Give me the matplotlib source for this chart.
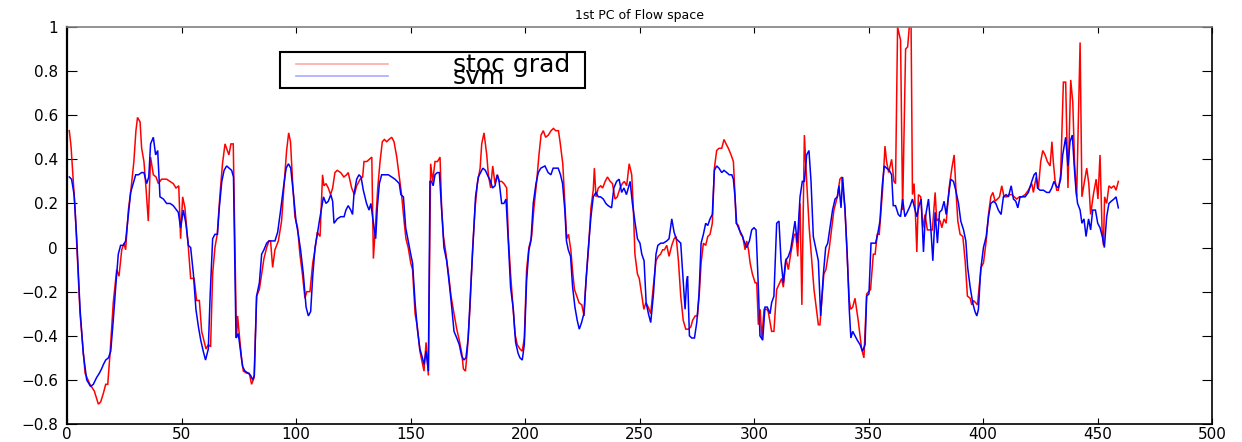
import matplotlib
matplotlib.use("Agg")
import matplotlib.pyplot as plt
from matplotlib.lines import Line2D
from matplotlib.patches import Rectangle

title = "1st PC of Flow space"
series_names = ["stoc grad", "svm"]
series_colors = ["#ff0000", "#0000ff"]

# (sample index, value) vertices
stoc_grad_pts = [
    (1, 0.53), (1.75, 0.46), (3.5, 0.18), (5.7, -0.30), (7.9, -0.57), (10, -0.62), (11.9, -0.65),
    (13.7, -0.71), (14.7, -0.70), (15.9, -0.66), (16.9, -0.62), (17.8, -0.62), (18.8, -0.48),
    (20.2, -0.25), (21.7, -0.10), (22.7, -0.13), (23.9, -0.01), (24.9, 0.02), (25.6, -0.01),
    (26.8, 0.17), (27.9, 0.26), (29.2, 0.39), (30.1, 0.53), (30.8, 0.59), (31.9, 0.57), (32.6, 0.45),
    (33.6, 0.39), (34.5, 0.27), (35.5, 0.12), (36.5, 0.41), (37.7, 0.33), (38.9, 0.32), (39.9, 0.29),
    (41.3, 0.31), (43.5, 0.31), (46.4, 0.29), (47.6, 0.27), (48.8, 0.28), (49.6, 0.04), (50.5, 0.23),
    (51.5, 0.18), (53, 0.0), (54, -0.14), (55.5, -0.14), (56.6, -0.24), (57.8, -0.24), (58.8, -0.38),
    (60.7, -0.46), (61.7, -0.44), (62.7, -0.45), (63.6, -0.12), (64.6, 0.0), (65.6, 0.06), (66.8, 0.24),
    (67.9, 0.38), (69, 0.47), (69.7, 0.45), (70.7, 0.42), (71.6, 0.47), (72.6, 0.47), (74.0, -0.41),
    (74.5, -0.31), (75.2, -0.39), (76.3, -0.51), (77, -0.56), (78.5, -0.57), (79.6, -0.57),
    (80.6, -0.62), (81.7, -0.59), (82.8, -0.22), (84, -0.19), (85, -0.12), (86, -0.05), (87.2, 0.0),
    (88.2, 0.03), (88.9, 0.03), (89.8, -0.09), (90.8, -0.01), (92.3, 0.03), (93.7, 0.12), (94.7, 0.27),
    (95.9, 0.44), (96.8, 0.52), (97.6, 0.48), (98.5, 0.30), (99.5, 0.14), (100.7, 0.09), (101.7, -0.03),
    (102.8, -0.12), (103.9, -0.23), (104.7, -0.20), (106.1, -0.20), (107.3, -0.07), (108.3, -0.01),
    (109.3, 0.07), (110.5, 0.05), (111.6, 0.33), (112.2, 0.28), (113.1, 0.29), (114.1, 0.27),
    (115.1, 0.24), (116, 0.27), (117, 0.34), (118, 0.35), (119.5, 0.34), (120.9, 0.32), (122.1, 0.33),
    (122.8, 0.34), (124.3, 0.27), (125.5, 0.24), (126.5, 0.28), (128, 0.31), (129.1, 0.32),
    (129.7, 0.39), (130.9, 0.39), (132, 0.40), (133.1, 0.41), (133.8, -0.05), (134.8, 0.12),
    (135.7, 0.27), (136.7, 0.39), (137.7, 0.48), (138.6, 0.49), (139.6, 0.48), (140.6, 0.49),
    (141.8, 0.50), (142.8, 0.48), (144, 0.41), (145.1, 0.32), (146.1, 0.24), (147.2, 0.12), (148, 0.04),
    (149, 0.0), (150.1, -0.07), (150.9, -0.10), (152, -0.30), (153, -0.36), (154.1, -0.47),
    (154.9, -0.51), (155.9, -0.56), (156.8, -0.43), (157.8, -0.58), (158.8, 0.38), (159.7, 0.30),
    (160.7, 0.39), (161.8, 0.39), (162.9, 0.41), (163.6, 0.18), (164.4, 0.05), (165.5, -0.03),
    (166.6, -0.12), (167.7, -0.22), (169, -0.30), (170.2, -0.37), (171.3, -0.42), (172.4, -0.48),
    (173.1, -0.55), (174, -0.56), (174.8, -0.47), (176, -0.27), (177.1, -0.01), (178.2, 0.18),
    (179.2, 0.29), (180.4, 0.36), (181.1, 0.47), (182.1, 0.52), (183.3, 0.42), (184, 0.33), (185, 0.27),
    (185.9, 0.37), (186.9, 0.29), (187.9, 0.33), (188.8, 0.30), (189.8, 0.30), (190.8, 0.29),
    (192, 0.27), (192.7, 0.05), (193.7, -0.12), (194.6, -0.25), (195.6, -0.39), (196.6, -0.44),
    (197.8, -0.46), (198.8, -0.47), (199.7, -0.41), (200.7, -0.10), (201.7, 0.0), (202.9, 0.05),
    (203.9, 0.18), (205.1, 0.30), (206.1, 0.42), (207, 0.51), (208, 0.53), (209, 0.50), (210.2, 0.51),
    (211.4, 0.53), (212.4, 0.54), (213.4, 0.53), (214.6, 0.53), (215.3, 0.48), (216.5, 0.38),
    (217.5, 0.18), (218.2, 0.04), (219, 0.06), (220, -0.01), (220.9, -0.12), (221.6, -0.19),
    (222.6, -0.22), (223.6, -0.25), (224.8, -0.26), (225.8, -0.31), (226.6, -0.15), (227.7, -0.01),
    (228.8, 0.18), (229.8, 0.26), (230.3, 0.36), (231, 0.23), (232, 0.27), (233.1, 0.28), (233.9, 0.27),
    (235, 0.30), (236, 0.32), (237.2, 0.30), (238.2, 0.29), (239.3, 0.22), (240.3, 0.23), (241.5, 0.27),
    (242.5, 0.29), (243.4, 0.30), (244.4, 0.28), (245.5, 0.38), (246.6, 0.33), (247.3, 0.18),
    (248, -0.03), (249.1, -0.12), (249.9, -0.14), (250.9, -0.21), (251.9, -0.28), (252.8, -0.25),
    (253.8, -0.27), (254.9, -0.30), (256, -0.18), (257.2, -0.06), (258.2, -0.04), (259.2, -0.03),
    (260.1, -0.01), (260.9, -0.01), (261.9, 0.01), (262.9, -0.04), (264.1, 0.01), (265.1, 0.04),
    (266, 0.05), (267, -0.06), (268, -0.22), (269.1, -0.33), (270.2, -0.37), (271.3, -0.37),
    (272.4, -0.36), (273.2, -0.33), (274.3, -0.31), (275.3, -0.31), (276.1, -0.21), (276.9, -0.07),
    (277.9, 0.02), (278.9, 0.01), (279.8, 0.05), (280.8, 0.06), (281.8, 0.11), (282.7, 0.36),
    (283.7, 0.44), (284.7, 0.45), (285.9, 0.45), (286.9, 0.49), (287.8, 0.47), (288.8, 0.45),
    (290, 0.42), (291, 0.39), (291.7, 0.24), (292.2, 0.11), (293.2, 0.10), (294.2, 0.06), (295.1, 0.05),
    (296.1, -0.01), (296.8, 0.03), (297.6, -0.01), (298.3, -0.07), (299.3, -0.12), (300.5, -0.16),
    (301.2, -0.16), (301.9, -0.35), (302.7, -0.28), (303.4, -0.41), (304.4, -0.28), (305.6, -0.28),
    (306.2, -0.29), (307.7, -0.38), (308.7, -0.38), (309.9, -0.19), (312.1, -0.14), (312.8, -0.18),
    (314, -0.05), (315, -0.10), (316, -0.03), (317.6, 0.06), (318.3, 0.06), (319.1, -0.04),
    (320.1, 0.20), (320.9, -0.26), (322, 0.51), (323, 0.30), (324.1, 0.09), (326.2, -0.19),
    (328.1, -0.35), (328.8, -0.35), (330.5, -0.12), (331.4, -0.10), (332.9, 0.0), (334.9, 0.17),
    (336.4, 0.23), (337.5, 0.31), (338.3, 0.32), (339.7, 0.18), (341.6, -0.24), (342.2, -0.28),
    (343.1, -0.27), (344.1, -0.23), (345.5, -0.33), (347, -0.46), (348, -0.50), (349.2, -0.21),
    (350.9, -0.19), (352.1, -0.03), (352.9, -0.03), (353.8, 0.06), (354.7, 0.06), (356.2, 0.27),
    (357.2, 0.46), (357.9, 0.39), (358.8, 0.34), (360.1, 0.40), (361.1, 0.30), (361.8, 0.29),
    (362.7, 1.0), (364, 0.94), (364.9, 0.17), (366.2, 0.90), (367.1, 0.91), (367.8, 1.0), (368.6, 1.0),
    (369.2, 0.24), (369.9, 0.29), (370.5, 0.15), (371.1, -0.02), (371.8, 0.24), (372.8, 0.23),
    (373.7, 0.09), (374.7, 0.15), (375.7, 0.08), (376.9, 0.08), (377.9, 0.08), (379.1, 0.25),
    (379.8, 0.12), (380.5, 0.13), (381.3, 0.12), (382, 0.09), (383, 0.13), (383.9, 0.11), (385.2, 0.27),
    (386.4, 0.36), (387.4, 0.42), (388.3, 0.24), (389, 0.12), (390, 0.06), (391.2, 0.05), (392.2, -0.06),
    (393.2, -0.22), (394.4, -0.23), (395.1, -0.26), (395.8, -0.24), (396.8, -0.25), (397.6, -0.26),
    (398.3, -0.18), (399.2, -0.09), (400.2, -0.07), (401.4, 0.03), (402.4, 0.15), (403.4, 0.23),
    (404.3, 0.25), (405.3, 0.21), (406.3, 0.22), (407.2, 0.23), (408.2, 0.28), (409.2, 0.23),
    (410.4, 0.23), (411.5, 0.24), (412.6, 0.24), (413.6, 0.23), (414.7, 0.22), (415.9, 0.23),
    (416.9, 0.23), (418.4, 0.24), (419.8, 0.26), (421.3, 0.29), (422, 0.25), (423.2, 0.32),
    (424.2, 0.27), (425.2, 0.39), (426.1, 0.44), (427.1, 0.42), (428.1, 0.39), (429.3, 0.37),
    (430.1, 0.48), (430.7, 0.39), (431.4, 0.31), (432.2, 0.26), (432.9, 0.26), (433.9, 0.33),
    (435.1, 0.75), (436.1, 0.75), (437.1, 0.27), (438.3, 0.76), (439.2, 0.66), (440, 0.38),
    (440.9, 0.23), (442.4, 0.93), (443.2, 0.23), (444.3, 0.30), (445.3, 0.36), (446.2, 0.29),
    (447, 0.15), (448.2, 0.24), (449.4, 0.31), (450.2, 0.22), (451.1, 0.42), (452, 0.08), (452.6, 0.01),
    (453.1, 0.23), (454, 0.20), (455, 0.28), (456, 0.27), (457.2, 0.28), (458.1, 0.26), (459.1, 0.30),
]

svm_pts = [
    (1, 0.32), (2, 0.31), (3.1, 0.24), (4.2, 0.05), (5.7, -0.28), (7.1, -0.48), (8.6, -0.60),
    (10.3, -0.63), (11.5, -0.62), (12.9, -0.59), (14.1, -0.57), (15.1, -0.55), (15.9, -0.53),
    (16.9, -0.51), (18.1, -0.50), (19.1, -0.47), (20.2, -0.33), (21.4, -0.16), (22.4, -0.03),
    (23.4, 0.01), (24.6, 0.01), (25.6, 0.03), (26.8, 0.15), (27.8, 0.25), (28.9, 0.29), (30, 0.33),
    (31.2, 0.33), (32.6, 0.34), (33.6, 0.34), (34.8, 0.29), (35.7, 0.32), (36.5, 0.47), (37.7, 0.50),
    (38.7, 0.42), (39.6, 0.44), (40.6, 0.23), (42.1, 0.22), (43.5, 0.20), (45, 0.20), (46.4, 0.19),
    (47.9, 0.17), (48.6, 0.16), (49.6, 0.09), (50.8, 0.17), (51.9, 0.11), (53, 0.01), (54, 0.0),
    (55.2, -0.12), (56.3, -0.28), (57.4, -0.36), (58.4, -0.42), (59.5, -0.47), (60.5, -0.51),
    (61.7, -0.46), (62.5, -0.22), (63.6, 0.04), (64.6, 0.06), (65.7, 0.06), (66.5, 0.18), (67.6, 0.30),
    (68.6, 0.35), (69.7, 0.37), (70.8, 0.36), (71.9, 0.35), (72.7, 0.32), (73.8, -0.41), (74.8, -0.39),
    (75.9, -0.48), (76.7, -0.54), (77.7, -0.56), (79.2, -0.57), (80.2, -0.58), (81.1, -0.60),
    (81.8, -0.58), (82.8, -0.22), (84, -0.16), (85, -0.03), (86, -0.01), (87.2, 0.02), (88.2, 0.03),
    (89.4, 0.03), (90.8, 0.03), (92, 0.07), (93.3, 0.17), (94.5, 0.27), (95.7, 0.36), (96.7, 0.38),
    (97.7, 0.36), (98.9, 0.24), (100, 0.12), (101, 0.06), (102, -0.01), (103.2, -0.12), (104.4, -0.27),
    (105.4, -0.31), (106.4, -0.29), (107.3, -0.13), (108.3, 0.0), (109.3, 0.06), (110.2, 0.12),
    (111.2, 0.18), (112, 0.23), (113.1, 0.20), (114.1, 0.21), (115.2, 0.24), (116, 0.21), (116.6, 0.11),
    (118, 0.13), (119.5, 0.14), (121, 0.14), (121.8, 0.17), (122.8, 0.19), (123.9, 0.17), (124.7, 0.15),
    (125.3, 0.24), (126.5, 0.31), (127.5, 0.33), (128.4, 0.32), (129.4, 0.26), (130.8, 0.20),
    (131.9, 0.17), (132.7, 0.20), (133.8, 0.11), (134.8, 0.04), (135.5, 0.18), (136.4, 0.29),
    (137.4, 0.33), (138.9, 0.33), (140.3, 0.33), (141.8, 0.32), (143.2, 0.31), (144.2, 0.30),
    (145.1, 0.29), (145.8, 0.24), (146.9, 0.23), (147.9, 0.09), (149, 0.03), (150.1, -0.03),
    (150.9, -0.07), (152, -0.25), (153, -0.37), (154.1, -0.46), (155.2, -0.50), (155.9, -0.53),
    (156.8, -0.47), (157.8, -0.56), (158.5, 0.30), (159.2, 0.30), (159.9, 0.28), (160.7, 0.33),
    (161.7, 0.34), (162.6, 0.34), (163.6, 0.17), (164.6, 0.0), (165.8, -0.06), (166.9, -0.16),
    (168, -0.27), (169, -0.38), (170.2, -0.41), (171.3, -0.44), (172.3, -0.49), (173.3, -0.51),
    (174.2, -0.50), (175.2, -0.41), (176.3, -0.18), (177.4, 0.03), (178.4, 0.23), (179.6, 0.32),
    (180.6, 0.34), (181.6, 0.36), (182.7, 0.35), (184, 0.32), (185, 0.30), (185.8, 0.27), (186.9, 0.28),
    (187.9, 0.33), (188.7, 0.30), (189.8, 0.20), (190.8, 0.20), (191.7, 0.22), (192.7, 0.03),
    (193.7, -0.18), (194.9, -0.28), (195.9, -0.43), (197, -0.48), (197.8, -0.50), (198.8, -0.51),
    (199.7, -0.44), (200.7, -0.15), (201.7, -0.01), (202.6, 0.03), (203.6, 0.20), (204.8, 0.29),
    (205.8, 0.34), (206.9, 0.36), (208.7, 0.37), (210.1, 0.34), (211.3, 0.33), (212.3, 0.36),
    (213.3, 0.36), (214.5, 0.36), (215.5, 0.33), (216.4, 0.29), (217.4, 0.17), (218.1, 0.03),
    (218.9, -0.01), (219.9, -0.04), (220.8, -0.18), (221.8, -0.27), (222.8, -0.33), (223.7, -0.37),
    (224.7, -0.34), (225.7, -0.30), (226.6, -0.16), (227.6, -0.01), (228.8, 0.14), (229.8, 0.23),
    (231, 0.25), (232, 0.23), (233, 0.23), (234.2, 0.22), (235.3, 0.20), (236.3, 0.19), (237.8, 0.18),
    (238.8, 0.27), (240, 0.30), (241.1, 0.31), (242.2, 0.25), (243.2, 0.27), (244.3, 0.24),
    (245.9, 0.30), (246.9, 0.20), (248.1, 0.11), (249.1, 0.04), (250.2, 0.02), (251, -0.03),
    (252, -0.06), (252.9, -0.25), (253.9, -0.30), (254.9, -0.34), (256.1, -0.21), (257.2, -0.03),
    (258, 0.01), (259.3, 0.02), (260.4, 0.02), (261.9, 0.03), (262.9, 0.04), (264.1, 0.13),
    (265.1, 0.07), (266, 0.04), (267, 0.03), (268, 0.02), (268.9, -0.12), (269.9, -0.28),
    (270.6, -0.15), (271, -0.13), (271.8, -0.40), (272.8, -0.41), (274, -0.41), (275, -0.34),
    (276, -0.21), (276.9, 0.02), (277.9, 0.06), (278.9, 0.11), (279.8, 0.10), (280.8, 0.13),
    (281.8, 0.15), (282.7, 0.35), (283.7, 0.37), (284.7, 0.36), (285.9, 0.34), (286.9, 0.35),
    (288.1, 0.34), (289.2, 0.33), (290.3, 0.33), (291, 0.31), (291.7, 0.23), (292.4, 0.11),
    (293.6, 0.08), (294.6, 0.06), (295.6, 0.03), (296.8, 0.0), (298, 0.03), (299, 0.08), (300, 0.09),
    (300.9, 0.08), (301.9, -0.18), (302.6, -0.40), (303.8, -0.42), (304.8, -0.27), (305.8, -0.27),
    (307, -0.30), (307.7, -0.25), (308.7, -0.22), (309.9, 0.11), (310.9, 0.12), (311.8, -0.06),
    (312.8, -0.16), (313.8, -0.06), (315, -0.04), (316, -0.01), (316.9, 0.05), (317.9, 0.12),
    (318.9, 0.02), (320.1, 0.23), (321.1, 0.30), (322, 0.30), (323, 0.42), (324, 0.44), (324.9, 0.30),
    (325.9, 0.05), (327.1, -0.01), (328.1, -0.06), (329.1, -0.31), (330.3, -0.12), (331.3, 0.0),
    (332.2, 0.02), (333.2, 0.09), (334.3, 0.17), (335.4, 0.22), (336.4, 0.23), (337.1, 0.28),
    (338, 0.18), (338.7, 0.32), (339.7, 0.18), (340.7, -0.03), (341.6, -0.28), (342.3, -0.41),
    (343.1, -0.38), (344.1, -0.40), (345.1, -0.42), (346.3, -0.44), (347.4, -0.47), (348.5, -0.44),
    (349.2, -0.22), (350.2, -0.21), (351.1, 0.02), (352.1, 0.02), (353.1, 0.02), (354, 0.06),
    (355, 0.12), (356, 0.28), (356.9, 0.37), (357.9, 0.36), (359.1, 0.35), (360.1, 0.33), (360.8, 0.19),
    (361.8, 0.19), (363, 0.15), (364, 0.14), (364.9, 0.22), (365.9, 0.14), (366.9, 0.16), (368.2, 0.19),
    (369.2, 0.22), (370.1, 0.18), (371.1, 0.14), (372.1, 0.19), (373, 0.22), (374, -0.02),
    (374.7, 0.12), (375.2, 0.16), (376.2, 0.22), (377.2, 0.09), (378.1, -0.06), (379.1, 0.16),
    (380.1, 0.02), (381, 0.16), (382, 0.17), (383, 0.21), (383.9, 0.15), (384.9, 0.23), (385.9, 0.31),
    (387.1, 0.30), (388.1, 0.26), (389.3, 0.20), (390.3, 0.12), (391.5, 0.08), (392.5, 0.03),
    (393.3, -0.09), (394.4, -0.18), (395.5, -0.25), (396.5, -0.29), (397.3, -0.31), (398, -0.28),
    (399, -0.10), (400.2, 0.0), (401.4, 0.05), (402.4, 0.14), (403.4, 0.20), (404.6, 0.21),
    (405.6, 0.20), (406.7, 0.17), (407.9, 0.15), (408.9, 0.23), (410.1, 0.24), (411.1, 0.23),
    (412.3, 0.28), (413.3, 0.22), (414.3, 0.21), (415.2, 0.18), (416.2, 0.23), (417.4, 0.23),
    (418.4, 0.23), (419.8, 0.25), (421.3, 0.30), (422.3, 0.33), (423.2, 0.34), (423.8, 0.27),
    (424.9, 0.26), (426.4, 0.26), (427.8, 0.25), (429, 0.25), (430, 0.27), (431, 0.30), (431.9, 0.28),
    (432.9, 0.27), (433.9, 0.31), (434.8, 0.42), (436.1, 0.50), (437.1, 0.37), (438, 0.48), (439, 0.51),
    (439.9, 0.36), (440.6, 0.26), (441.3, 0.20), (442.4, 0.17), (443.2, 0.11), (444.1, 0.13),
    (445, 0.05), (446.1, 0.13), (447, 0.08), (447.9, 0.17), (449.1, 0.17), (450.1, 0.11), (451.1, 0.09),
    (452.1, 0.05), (453, 0.0), (454, 0.14), (455, 0.20), (456, 0.21), (457.2, 0.22), (458.1, 0.23),
    (459.1, 0.18),
]

x_ticks = [0, 50, 100, 150, 200, 250, 300, 350, 400, 450, 500]
x_tick_labels = ["0", "50", "100", "150", "200", "250", "300", "350", "400", "450", "500"]
y_ticks = [-0.8, -0.6, -0.4, -0.2, 0, 0.2, 0.4, 0.6, 0.8, 1]
y_tick_labels = ["\u22120.8", "\u22120.6", "\u22120.4", "\u22120.2", "0", "0.2", "0.4", "0.6", "0.8", "1"]

plt.rcParams['font.family'] = ['DejaVu Sans']

fig = plt.figure(figsize=(12.42, 4.42), dpi=100)
ax = fig.add_axes([67 / 1242, 18 / 442, 1145 / 1242, 397 / 442])

for pts, color in zip([stoc_grad_pts, svm_pts], series_colors):
    xs = [p[0] for p in pts]
    ys = [p[1] for p in pts]
    ax.plot(xs, ys, color=color, lw=1.1, solid_joinstyle='miter')

ax.set_xlim(0, 500)
ax.set_ylim(-0.8, 1)
ax.set_xticks(x_ticks)
ax.set_xticklabels(x_tick_labels)
ax.set_yticks(y_ticks)
ax.set_yticklabels(y_tick_labels)
ax.tick_params(axis='x', direction='in', length=4.5, width=0.8, top=True, pad=2, labelsize=11)
ax.tick_params(axis='y', direction='in', length=7, width=0.8, right=True, pad=6.5, labelsize=11)
for side in ['left', 'bottom', 'right']:
    ax.spines[side].set_color('black')
    ax.spines[side].set_linewidth(1.2)
ax.spines['left'].set_linewidth(1.6)
ax.spines['top'].set_color('#808080')
ax.spines['top'].set_linewidth(1.2)

ax.set_title(title, fontsize=9, pad=6)

# manual legend box
ax.add_patch(Rectangle((0.186, 0.846), 0.266, 0.091, transform=ax.transAxes,
                       facecolor='white', edgecolor='black', lw=1.5, zorder=5))
ax.add_line(Line2D([0.2, 0.28], [0.907, 0.907], transform=ax.transAxes,
                   color='#ffaaaa', lw=1.2, zorder=6))
ax.add_line(Line2D([0.2, 0.28], [0.876, 0.876], transform=ax.transAxes,
                   color='#aaaaff', lw=1.2, zorder=6))
ax.text(0.337, 0.886, series_names[0], transform=ax.transAxes, fontsize=18,
        va='baseline', ha='left', zorder=7)
ax.text(0.337, 0.857, series_names[1], transform=ax.transAxes, fontsize=18,
        va='baseline', ha='left', zorder=7)

fig.savefig("out.png", dpi=100)
